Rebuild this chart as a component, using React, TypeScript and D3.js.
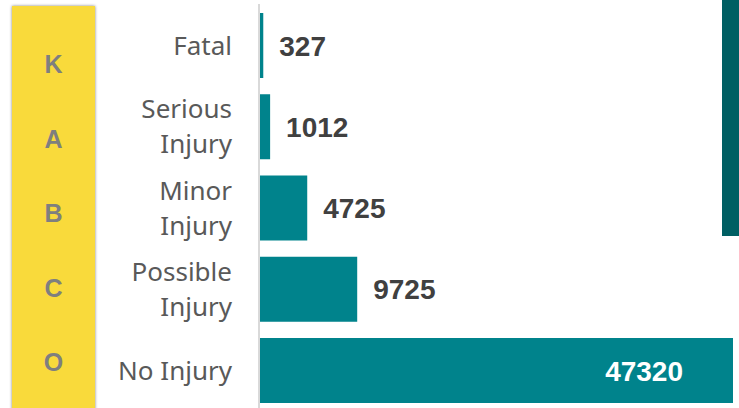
import { scaleBand, scaleLinear, scalePoint } from 'd3'

const width = 739,
      height = 408

// crash severity (KABCO scale)
const categories = ['Fatal', 'Serious Injury', 'Minor Injury', 'Possible Injury', 'No Injury']
const labelLines = [['Fatal'], ['Serious', 'Injury'], ['Minor', 'Injury'], ['Possible', 'Injury'], ['No Injury']]
const counts = [327, 1012, 4725, 9725, 47320]
const codes = ['K', 'A', 'B', 'C', 'O']

const y = scaleBand<string>()
  .domain(categories)
  .range([13, 403])
  .paddingInner(0.2)

const x = scaleLinear()
  .domain([0, 47320])
  .range([260, 733])

// the letter column is laid out on its own spacing
const codeY = scalePoint<string>()
  .domain(codes)
  .range([64, 362])

const barColor = '#00838C'
const labelFont = '"Noto Sans", sans-serif'
const valueFont = '"Liberation Sans", Arial, sans-serif'

export default function App() {
  return (
    <svg width={width} height={height}
      style={{ position: 'absolute', left: 0, top: 0, display: 'block', background: '#fff' }}>
      <defs>
        <filter id='shadow' x='-20%' y='-5%' width='140%' height='110%'>
          <feDropShadow dx='0' dy='0' stdDeviation='1.6' floodColor='#000' floodOpacity='0.5' />
        </filter>
      </defs>

      {/* yellow KABCO strip */}
      <rect x={12} y={6} width={83} height={height + 10} fill='#F9DA3A' filter='url(#shadow)' />
      {codes.map(c =>
        <text key={c} x={53.5} y={codeY(c)} dy='0.36em' textAnchor='middle'
          fontFamily={valueFont} fontWeight='bold' fontSize={25} fill='#7F7F7F'>{c}</text>
      )}

      {/* category labels */}
      {categories.map((c, i) => {
        const lines = labelLines[i]
        const cy = (y(c) as number) + y.bandwidth() / 2
        return (
          <text key={c} textAnchor='end' fontFamily={labelFont} fontSize={26} fill='#595959'>
            {lines.map((l, j) =>
              <tspan key={l} x={232} y={cy + (j - (lines.length - 1) / 2) * 35} dy='0.35em'>{l}</tspan>
            )}
          </text>
        )
      })}

      {/* axis */}
      <line x1={259} x2={259} y1={4} y2={height} stroke='#D9D9D9' strokeWidth={2} />

      {/* bars */}
      {categories.map((c, i) =>
        <rect key={c} x={x(0)} y={y(c)} width={x(counts[i]) - x(0)} height={y.bandwidth()} fill={barColor} />
      )}

      {/* value labels */}
      {categories.map((c, i) => {
        const inside = counts[i] > 40000
        return (
          <text key={c}
            x={inside ? x(counts[i]) - 50 : x(counts[i]) + 16}
            y={(y(c) as number) + y.bandwidth() / 2}
            dy='0.36em'
            textAnchor={inside ? 'end' : 'start'}
            fontFamily={valueFont} fontWeight='bold' fontSize={28}
            fill={inside ? '#fff' : '#404040'}>{counts[i]}</text>
        )
      })}

      {/* dark accent bar top right */}
      <rect x={722} y={0} width={width - 722} height={236} fill='#005F63' />
    </svg>
  )
}
